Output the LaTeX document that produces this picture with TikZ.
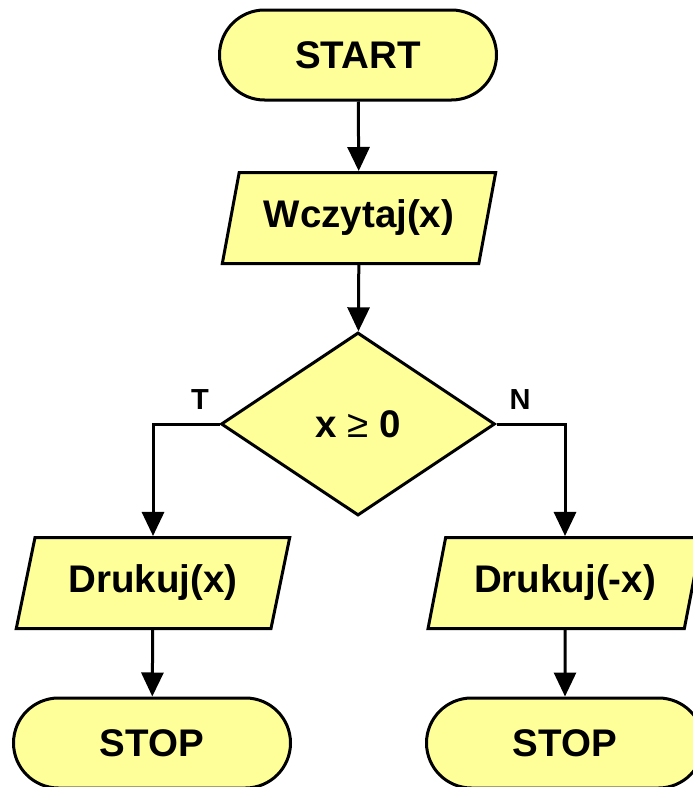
\documentclass[tikz,border=0pt]{standalone}
\usepackage{fontspec}
\setmainfont{Liberation Sans}
\usetikzlibrary{shapes.geometric,arrows.meta}
\definecolor{fillY}{HTML}{FFFF99}
\tikzset{
  base/.style={draw=black, line width=3pt, fill=fillY, inner sep=0pt,
    font=\fontsize{38.5}{42}\selectfont\bfseries},
  term/.style={base, rectangle, rounded corners=45pt, minimum width=277pt, minimum height=90pt},
  io/.style={base, trapezium, trapezium left angle=69.5, trapezium right angle=110.5,
    trapezium stretches=true, minimum width=274pt, minimum height=91pt},
  decision/.style={base, diamond, minimum width=274pt, minimum height=183pt},
  arr/.style={line width=3pt, -{Triangle[length=24pt,width=22pt]}},
  lab/.style={font=\fontsize{29}{32}\selectfont\bfseries}
}
\begin{document}
\begin{tikzpicture}[x=1pt,y=-1pt]
\useasboundingbox (0,0) rectangle (693,787);
\node[term] (start) at (358,55) {START};
\node[io] (read) at (359,218) {Wczytaj(x)};
\node[decision] (dec) at (358,424) {x {\mdseries ≥} 0};
\node[io] (pl) at (153,583) {Drukuj(x)};
\node[io] (pr) at (565,583) {Drukuj(-x)};
\node[term] (sl) at (152,743) {STOP};
\node[term] (sr) at (565,743) {STOP};
\node[lab] (t) at (200,400) {T};
\node[lab] (n) at (520,400) {N};
\draw[arr] (start) -- (read);
\draw[arr] (read) -- (dec);
\draw[arr] (dec.west) -| (pl.north);
\draw[arr] (dec.east) -| (pr.north);
\draw[arr] (pl) -- (sl);
\draw[arr] (pr) -- (sr);
\end{tikzpicture}
\end{document}
